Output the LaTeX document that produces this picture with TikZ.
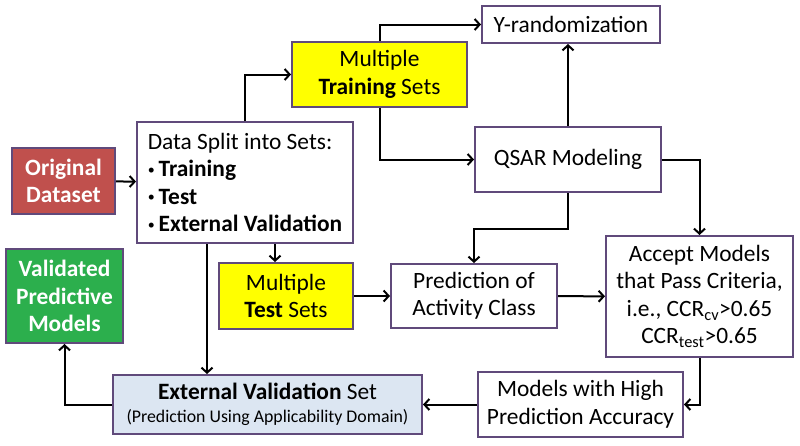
\documentclass[tikz,border=0pt]{standalone}
\usepackage{fontspec}
\setmainfont{Carlito}
\usetikzlibrary{arrows.meta}
\definecolor{boxline}{HTML}{604A7B}
\definecolor{origred}{HTML}{C0504D}
\definecolor{setyellow}{HTML}{FFFF00}
\definecolor{validgreen}{HTML}{2CAF4D}
\definecolor{extblue}{HTML}{DCE6F2}
\newcommand{\splitdot}{\raisebox{2.5pt}{\fontsize{14}{14}\selectfont\textbullet}\,}
\begin{document}
\begin{tikzpicture}[x=1pt,y=-1pt,
  line width=2pt,>={Straight Barb[length=5pt,width=11pt]},
  main node/.style={draw=boxline,line width=2pt,fill=white,inner sep=0pt,align=center,
    font=\fontsize{23.4}{27.5}\selectfont},
  red node/.style={main node,fill=origred,text=white,font=\fontsize{23.4}{27.5}\selectfont\bfseries},
  yellow node/.style={main node,fill=setyellow},
  green node/.style={main node,fill=validgreen,text=white,font=\fontsize{23.4}{27.5}\selectfont\bfseries},
  blue node/.style={main node,fill=extblue}]

  \useasboundingbox (0,0) rectangle (800,445);

  \node[red node,minimum width=103pt,minimum height=66pt] (0) at (63.5,181){Original\\Dataset};
  \node[main node,minimum width=216pt,minimum height=121pt,align=left] (1) at (245,182.5)
    {Data Split into Sets:\\\splitdot\textbf{Training}\\\splitdot\textbf{Test}\\\splitdot\textbf{External Validation}};
  \node[yellow node,minimum width=175pt,minimum height=65pt] (2) at (379.5,74.5){Multiple\\\textbf{Training} Sets};
  \node[main node,minimum width=178pt,minimum height=37pt] (3) at (571,24.5){Y-randomization};
  \node[main node,minimum width=186pt,minimum height=65pt] (4) at (568,159.5){QSAR Modeling};
  \node[yellow node,minimum width=134pt,minimum height=66pt] (5) at (286,296){Multiple\\\textbf{Test} Sets};
  \node[main node,minimum width=166pt,minimum height=64pt] (6) at (474,296){Prediction of\\Activity Class};
  \node[main node,minimum width=187pt,minimum height=121pt] (7) at (699.5,296.5)
    {Accept Models\\that Pass Criteria,\\i.e., CCR\textsubscript{cv}>0.65\\CCR\textsubscript{test}>0.65};
  \node[main node,minimum width=205pt,minimum height=65pt] (8) at (580.5,404.5){Models with High\\Prediction Accuracy};
  \node[blue node,minimum width=309pt,minimum height=59pt] (9) at (267.5,404.5)
    {\textbf{External Validation} Set\\[-4pt]{\fontsize{17.8}{21}\selectfont(Prediction Using Applicability Domain)}};
  \node[green node,minimum width=117pt,minimum height=94pt] (10) at (64.5,296){Validated\\Predictive\\Models};

  \draw[->] (0) -- (1);
  \draw[->] (1.north) |- (2.west);
  \draw[->] (2.north) |- (3.west);
  \draw[->] (2.south) |- (4.west);
  \draw[->] (4.north) -- (4.north |- 3.south);
  \draw[->] (4.east) -| (7.north);
  \draw[->] (4.south) -- ++(0,36) -| (6.north);
  \draw[->] ([xshift=30pt]1.south) -- ([xshift=30pt]1.south |- 5.north);
  \draw[->] ([xshift=-38pt]1.south) -- ([xshift=-38pt]1.south |- 9.north);
  \draw[->] (5) -- (6);
  \draw[->] (6) -- (7);
  \draw[->] (7.south) |- (8.east);
  \draw[->] (8) -- (9);
  \draw[->] (9.west) -| (10.south);
\end{tikzpicture}
\end{document}
